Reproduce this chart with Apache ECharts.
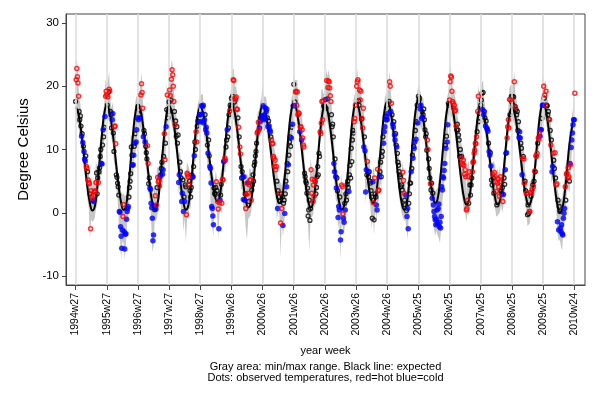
<!DOCTYPE html>
<html><head><meta charset="utf-8">
<script src="https://cdn.jsdelivr.net/npm/echarts@6/dist/echarts.min.js"></script>
<style>html,body{margin:0;padding:0;background:#fff}#c{width:600px;height:400px}</style>
</head><body><div id="c"></div>
<script>
// Tick labels, one every 52 weeks starting at week index 0 (= 1994w27)
const tickLabels = ['1994w27','1995w27','1996w27','1997w27','1998w27','1999w26','2000w26','2001w26','2002w26','2003w26','2004w26','2005w25','2006w25','2007w25','2008w25','2009w25','2010w24'];
const tickWeeks = tickLabels.map((_, i) => i * 52);
const captionLines = ['Gray area: min/max range. Black line: expected', 'Dots: observed temperatures, red=hot blue=cold'];

// Expected temperature, one value every 4 weeks from week 0
const expectedStep = 4;
const expectedTemp = [
16.7,15.95,13.8,10.7,7.17,3.91,1.48,0.35,0.98,3.84,8.08,12.49,15.78,
17.0,16.24,14.06,10.92,7.36,4.05,1.6,0.45,1.08,3.94,8.18,12.59,15.88,
17.1,16.33,14.15,11.01,7.43,4.11,1.65,0.5,1.12,3.94,8.12,12.46,15.7,
16.9,16.14,13.99,10.88,7.34,4.07,1.63,0.5,1.12,3.9,8.02,12.31,15.51,
16.7,16.01,14.06,11.25,8.04,5.08,2.87,1.85,2.43,5.06,8.98,13.04,16.08,
17.2,16.45,14.3,11.2,7.67,4.41,1.98,0.85,1.46,4.21,8.3,12.55,15.72,
16.9,16.19,14.17,11.26,7.95,4.89,2.61,1.55,2.15,4.85,8.86,13.03,16.15,
17.3,16.54,14.38,11.26,7.71,4.43,1.99,0.85,1.46,4.23,8.35,12.63,15.82,
17.0,16.24,14.07,10.94,7.38,4.09,1.64,0.5,1.14,4.04,8.35,12.82,16.16,
17.4,16.67,14.59,11.58,8.16,5.0,2.64,1.55,2.16,4.91,9.0,13.25,16.42,
17.6,16.81,14.56,11.32,7.64,4.22,1.68,0.5,1.16,4.13,8.54,13.12,16.53,
17.8,17.05,14.91,11.83,8.33,5.09,2.67,1.55,2.16,4.91,9.0,13.25,16.42,
17.6,16.85,14.71,11.62,8.1,4.85,2.43,1.3,1.88,4.53,8.45,12.53,15.57,
16.7,15.99,13.97,11.05,7.72,4.65,2.36,1.3,1.88,4.5,8.4,12.46,15.48,
16.6,15.89,13.87,10.96,7.65,4.59,2.31,1.25,1.86,4.61,8.7,12.95,16.12,
17.3,16.5,14.24,10.97,7.25,3.81,1.25,0.05,0.66,3.0,6.8,10.8,13.3,
14.8];

// Min/max range, one value every 2 weeks from week 0
const bandStep = 2;
const bandMax = [
23.0,24.4,22.3,18.0,17.3,14.5,13.0,11.5,11.0,9.2,8.3,6.6,4.8,5.3,4.1,5.1,5.3,8.1,7.3,8.3,10.7,12.1,14.3,15.9,17.6,21.0,
20.4,20.9,22.3,17.8,16.5,17.5,15.4,15.5,9.2,7.5,5.9,4.6,3.4,2.8,3.1,2.6,2.9,4.3,5.7,7.8,12.2,12.2,14.4,16.0,17.7,18.5,
18.9,18.5,20.4,22.2,18.3,14.8,13.0,11.3,12.4,7.6,5.9,4.7,3.5,2.9,4.5,3.1,7.4,6.9,7.5,8.8,9.9,12.1,14.3,15.9,20.4,18.1,
21.2,20.3,24.2,23.4,19.4,16.3,15.4,14.1,9.1,9.8,7.3,7.0,4.3,6.2,5.9,8.0,7.5,6.8,5.8,7.8,9.8,13.0,14.6,15.7,17.3,17.9,
18.5,18.7,18.8,16.8,17.3,15.3,13.1,13.3,9.8,8.3,6.9,5.8,4.9,6.7,5.3,4.0,4.2,6.3,7.1,9.9,10.8,12.8,14.9,16.4,17.9,18.8,
19.9,22.8,22.7,19.9,20.1,18.1,15.3,12.2,9.5,8.3,7.5,5.0,4.7,6.5,4.9,7.0,7.0,6.2,7.8,9.8,11.5,14.4,16.1,16.0,17.5,18.1,
20.5,18.3,18.4,18.2,16.8,16.3,14.9,13.8,12.8,10.7,10.1,9.1,6.8,5.3,4.9,4.8,4.3,5.3,6.6,8.6,10.6,12.7,14.8,16.4,17.9,18.7,
22.1,20.9,21.0,20.9,17.6,15.3,15.4,14.9,12.5,8.1,6.8,5.7,3.8,3.8,8.6,7.1,6.2,7.0,6.7,8.1,10.2,12.3,14.6,19.4,19.5,18.7,
19.7,22.7,21.6,22.6,21.5,19.4,15.8,13.8,10.3,7.6,7.3,4.7,4.3,2.9,6.2,2.6,3.3,4.8,6.3,8.0,10.2,12.4,14.6,16.3,18.0,18.8,
21.8,22.8,19.5,21.2,21.0,16.7,18.3,13.8,10.0,9.9,8.3,8.3,6.5,4.3,6.7,7.3,4.8,5.3,8.7,8.8,10.8,12.9,15.0,16.6,18.2,18.8,
19.4,19.4,22.5,19.1,17.3,16.2,14.1,14.3,12.2,9.8,8.3,7.5,6.2,8.2,4.9,4.6,3.0,4.5,5.9,8.2,10.3,12.7,14.9,16.6,18.3,19.0,
20.2,19.9,18.8,17.8,18.2,16.5,14.3,13.3,11.8,8.8,6.9,6.5,4.9,3.9,3.4,3.7,4.0,5.3,6.7,8.8,10.8,12.9,15.0,16.6,18.2,19.1,
22.5,23.4,21.0,19.1,18.8,18.0,15.8,14.9,13.3,11.8,10.7,10.1,9.3,8.6,3.1,7.5,8.3,6.2,7.3,9.8,11.2,12.8,14.3,17.8,20.2,18.3,
19.6,20.7,20.8,17.8,16.3,15.2,14.7,11.5,11.3,8.0,7.9,8.2,7.5,5.2,7.2,5.9,7.5,5.3,6.3,8.3,10.2,12.2,15.4,16.5,19.7,20.2,
20.2,20.1,22.5,18.5,17.8,16.2,14.6,13.6,12.0,10.7,10.3,6.8,4.9,3.6,3.1,5.1,4.9,6.2,6.8,8.5,10.8,12.8,14.8,16.4,17.9,18.8,
21.8,20.4,21.0,18.8,17.8,16.6,14.8,13.3,11.2,10.1,11.3,6.4,3.8,2.8,2.0,2.2,2.5,3.8,5.9,7.9,8.6,10.6,12.6,13.9,15.1,16.5,
20.7];
const bandMin = [
14.5,14.3,14.0,12.7,11.8,10.3,8.6,6.6,5.3,3.6,2.0,0.8,-4.3,-1.0,-1.5,-1.2,-0.8,0.6,1.2,3.0,5.3,6.0,5.9,10.2,11.7,14.6,
15.2,14.8,14.4,13.3,11.6,10.7,7.9,7.3,3.8,2.3,-1.6,-4.0,-7.4,-4.5,-4.8,-7.5,-5.1,-1.6,-0.8,2.2,4.4,5.7,5.8,8.7,9.4,11.3,
12.9,13.7,13.2,13.5,10.2,10.7,8.7,6.7,5.6,2.8,1.9,-1.0,-6.2,-5.3,-1.3,-1.2,-0.7,0.7,2.1,4.2,4.3,5.0,6.6,9.2,13.9,13.2,
15.1,14.7,14.3,13.2,12.2,10.6,9.1,7.3,3.0,3.9,0.0,1.0,-3.0,-0.8,-4.7,-1.0,-0.7,0.7,0.7,3.8,3.9,7.2,8.2,9.4,12.7,12.6,
12.6,13.8,14.2,12.4,11.3,10.8,7.6,7.2,5.2,-0.8,-2.3,-3.7,1.1,0.5,0.0,-4.3,-0.2,1.0,-0.3,3.4,6.4,6.5,9.7,10.2,13.7,14.7,
15.2,15.0,14.6,13.6,12.5,10.9,9.4,7.5,3.7,3.8,0.3,0.2,-2.5,-4.3,-1.0,-0.7,-0.4,1.0,2.4,4.4,6.5,8.6,10.7,11.3,12.6,13.1,
13.5,12.9,13.0,13.4,11.8,10.9,9.5,7.8,6.2,4.6,3.1,2.0,-1.1,0.3,-0.2,-7.0,-1.1,-3.8,-1.9,1.2,2.3,4.7,7.3,8.7,10.0,12.2,
15.1,15.4,15.0,13.7,12.6,11.0,9.5,7.7,5.9,3.9,2.6,1.3,-2.3,-6.0,-1.1,-0.7,-0.4,0.8,1.2,2.2,4.2,7.1,10.7,12.4,12.9,14.6,
15.0,14.7,14.4,13.4,12.3,10.7,9.1,6.0,4.7,2.1,1.7,-2.6,-1.4,-7.5,-1.3,-2.7,-3.3,-1.4,0.2,2.2,1.5,3.7,6.3,9.7,10.8,13.1,
15.2,15.2,14.9,13.8,12.8,11.3,8.6,8.0,1.5,4.2,3.2,2.0,0.8,-2.6,-0.2,-3.5,0.4,-1.4,1.7,1.8,4.7,3.9,7.9,9.2,11.8,12.9,
12.9,14.7,15.0,13.9,12.2,11.2,9.5,7.7,5.8,4.2,2.4,1.2,-0.1,-0.7,-1.3,-1.0,-2.4,-4.3,-0.3,2.9,4.7,6.8,8.4,9.4,9.8,12.4,
16.0,14.6,13.1,13.3,13.1,11.3,10.0,8.1,6.5,3.7,1.8,0.5,-0.6,-2.4,-3.7,-2.8,-3.6,-4.0,-4.8,-2.4,1.8,3.7,6.0,8.4,9.4,15.2,
15.8,15.4,15.0,14.0,12.9,11.4,9.8,8.0,6.3,4.7,3.0,1.8,0.6,0.0,-1.4,-0.2,-0.3,1.0,2.6,4.7,6.3,8.1,9.1,11.0,12.6,13.9,
14.9,14.5,13.7,13.2,11.9,10.7,9.2,7.3,5.6,2.6,2.9,1.3,0.6,-0.6,-0.5,-0.2,0.1,1.2,0.0,1.1,2.7,7.6,10.0,11.6,13.7,14.3,
14.8,14.5,14.1,13.1,12.1,10.6,9.2,7.5,4.2,4.3,2.8,1.6,0.5,-2.1,-1.9,-1.6,0.0,1.4,2.3,4.7,6.9,7.6,9.8,10.3,11.3,13.1,
15.2,15.1,14.7,13.5,12.4,10.8,8.9,4.7,5.4,3.7,2.0,0.7,-3.2,-4.5,-4.2,-5.3,-6.0,-2.6,-1.1,0.2,3.7,3.9,3.2,5.8,9.7,12.1,
12.9];

// Observed weekly temperature from week 0
const observedTemp = [
17.6,21,22.8,21.5,20.5,18.4,16,14.7,15.3,13.7,12.1,12.5,11.1,10.5,9.7,8.5,8.2,9,7.3,7,6.5,5.2,4.8,4.6,3,-2.5,3.5,2.6,2.3,2,1.8,3.35,3.3,3.5,4.8,6.3,3,5.5,4.8,6.5,7.1,8.9,10,7.8,7.7,10.7,13.1,12,13.5,15.2,18.4,19.2,
18.6,17,18.3,19.1,19.5,19.2,16,15.5,13.4,14.7,15.7,12.6,9.7,13.6,13.7,10.9,6,5.6,4.7,4.1,2.8,0.2,0.1,-2.2,-3.7,-5.6,-2.7,-0.6,1.3,-3,-5.7,-3.4,-3.3,-1,0.2,0.7,1,2.5,4,5,6.2,10.4,9.1,7.5,7.6,9.1,10.5,11,12.5,11.2,13.1,15,
16.8,14.7,16.3,15.5,15,18.6,20.4,19,16.5,12,13,12.5,11.2,10.5,9.5,8.5,10.6,7.8,4.6,5.5,3.9,3.7,1.5,0.8,-0.85,-4.4,-3.5,1.1,0.5,2.7,0.6,1.25,4,5.6,4.9,5.1,4.25,5.7,6,7,8,6.1,6.8,8.9,12.5,8.4,11,13.6,16.3,18.6,15,16,
17.5,19.4,18.5,17.8,21.1,22.6,21.8,20,17.6,16,13.9,14.5,12.1,13.6,11,12.3,4.8,6,8,6.5,5.5,1.8,3.1,5.2,0.2,2.5,1.8,4.4,4.1,-0.3,6.25,6,5.7,4.5,5,3.5,2.5,4,6,5.6,5.7,7.3,9,11.2,10,12.8,11.2,13.7,14.5,15,14.4,15.5,
15.5,14.4,16.9,15.6,16.8,17,14.2,14.7,15.5,13.1,13.5,12.6,10.7,9.4,11.5,9,7.3,7,4.7,1,0.7,-0.5,-1.9,3.9,3.1,2.9,4,4.9,3.5,1.8,0.6,-2.5,1.6,2,2.8,4.5,1.5,5.3,5.2,8.1,8.2,8.6,8.3,10.4,11.5,13.1,12,13.4,15.5,16.1,17,16.5,
18.1,17,18.4,21,20.9,17.5,18.1,17.8,18.3,16.4,16.3,15,13.5,12,10.4,9.3,7.3,5.5,6.5,5.6,2.1,5.7,2,3,0.7,2.9,4.7,4.7,3.1,1.8,4.4,5.2,5.2,2,3.6,4.4,6,5,7.5,8,9,9.7,11,12.6,12.8,14.3,13.1,13.4,14.4,15,14.9,15.3,
15.3,16.9,14.7,15.5,16.6,14.8,16,16.4,15,13.6,14.5,13.7,13.1,12.8,12,11.5,11,10.9,8.9,8.6,7.3,8.3,6.8,7.3,5,0.7,3.5,2.5,3.1,1.8,-1.6,3,0.7,2.5,-2,1.5,2,-0.1,3,5,4.1,7.8,6.5,7.6,9.1,11.2,12,10.5,11.8,13.5,14,16.9,
20.3,16.9,17.5,19.1,19.2,17,19.1,15.5,15.8,15.7,12.8,13.5,13.6,11.5,13.1,11.8,10.7,10.4,6.25,5.7,5,4.7,3.1,3.9,-0.5,0.45,2,-1.2,0.7,6.8,3.1,5.3,1.8,4.4,2.6,5.2,4.9,3,4,5.7,7.3,6,9.4,8.9,12.8,12.5,14.2,17.6,14.7,17.7,16.9,16.8,
16.8,17.9,16.5,20.9,18,19.8,20.8,20.7,19.7,18.5,17.6,15.5,13.6,14,12,7.8,6.5,8.5,5.7,3.9,5.5,3.5,-0.75,1,0.45,2.5,-4.3,-3,4.4,4.1,-0.2,-0.85,-1.5,1.5,0.45,3,2,4.5,5,4,3.35,6,7.5,5.5,10.2,8.1,11.5,13,12.6,14.4,14.9,17,
17,20,20.7,21,17.7,17,19.4,17.8,19.2,14.8,14.9,13.4,16.5,10.4,12,9.8,3.3,6.8,6,8.1,6.5,5.7,6.5,5,4.7,3.5,2.5,-0.85,4.9,1.6,-1.1,5.5,3,2.5,1.25,0.45,6.9,3.5,3.6,5.7,6.5,8,5.7,8.9,9.7,12,11,12.8,13.6,15.2,14.7,15.2,
14.7,15.7,16.5,17.6,20.7,20,16,17.3,15.5,14,13.5,14.4,12.3,11.5,12.5,10.7,10.4,9.4,8,7.5,6.5,6,5.7,4.1,4.4,3.6,6.4,5.1,3.1,2,1.25,2.8,0.35,-0.6,0.7,-2.5,1.5,3,4.7,4.7,6.5,7,9.1,8.6,10.5,10.2,11.2,13,11.6,14.4,17,14.2,
18.4,17.8,18.1,16.4,17,14.9,16,15.1,15.5,16.4,14.7,13.1,12,12.5,9.9,11.5,10,8.5,7,5.5,4.6,3.6,4.7,2.3,3.1,1.25,0.2,-0.6,-1.1,-1.9,-1,0.45,-1.75,0.7,1.4,-2.2,-1.5,-2.4,-0.6,4.1,3.6,5.7,5.5,6.7,7.8,10.7,10.2,12.1,11.2,13.9,17.3,17,
17.8,20.7,21.6,21.4,19.2,17.6,17.3,16.5,17,16.1,16.2,13.7,13.1,14,13.1,12.3,11.5,8.9,10,8.6,8.9,7.8,7.6,8.3,7.5,6.1,6.8,5.7,0.45,0.7,2,5.7,1.5,6.5,4.4,2.8,4.4,5.5,6.5,7.95,8.1,9.4,9.9,11,10.9,12,12.8,16,18.4,14.4,15.7,16.5,
17,17.8,18.9,16.3,19,15.5,16,15,13.7,14.5,13.4,13.2,12.9,11,9.7,9.1,9.5,7.4,5.2,4.4,6.1,5.5,3.1,6.35,5.7,4.9,3.35,1.25,4.7,5.4,4.1,2.6,4.9,5.7,3.5,3,4,1.8,2.9,5.5,4.5,6.8,9.4,9.5,11.8,13.6,14.7,13.4,17.9,15.5,17.8,18.4,
17.5,18.4,17,18.3,20.7,16.8,16.7,16.3,15.5,16,13,14.4,11.9,12.8,11.8,11,10.2,6,8.6,8.9,8.5,4.7,5,3.5,3.1,3.1,-0.3,1.25,-0.1,0.2,0.2,3.25,2.6,3.1,3.7,4.4,4.1,5,6.6,6.5,9,8.9,9.4,11,11.8,11.6,12.6,12.1,13.1,13.1,14.9,17,
17,20,18.1,18.6,17,19.2,17,16.9,15.5,16,14.8,14.7,13,10.7,11.5,6.5,7.3,9.4,8.3,7,9.5,5.5,4.4,4.6,-1.4,2,-2.7,1,0.2,-2.4,-3,-1.9,-3.3,-3.5,-0.85,-0.05,0.7,4.1,2,6.1,6.25,5.5,7.1,5.7,5,7.8,7.6,10.3,11.5,12.6,13.9,14.7,14.7,18.9];

// Class of each observed week: k = normal, r = hot, b = cold
const observedClass =
'krrrrrkkkkbkbkbbbkrrkrrrkrrrrbbrrrrkkkrkkkkbbkbkkbrr' +
'rkrkrrkkkbbkkrrrkkkkkbbbbbbrrbbbbbbbbkkkkkkbbbkbkbbb' +
'kbkkbrrrrbkkbkkkrrkkbbbbbbbbkrbrkrrrrbkkkbbkrrkbkrkk' +
'krrkrrrrrkrkkkkkbbkkkbbkbkbkkrrrrrkkkkkbbkbkkrrkkkbb' +
'bbbbbbbbkbbbkbkkbbbbbbbkkkkrkrrbrbkkrrrbbrrkkbkkkrkk' +
'kkkrrkrrrrrkrkrrkkkbbbbkrrrbrkrrrrkkkkkkkkkrrrrbbkbb' +
'bbbbbbbbkbkbbbkrrrrrrrrrkbkkrkrkrkbkkbkkbkkbkkkkbkbk' +
'kbkrrrrrrrbrrbrrrrkkkkkkkkkkkrrrrrrrrkkkkkkkrrrrrrkk' +
'kbkrkrrrrrrkkkkbbkbbkkbbbkbbrrrbbkbkkkkkbkkkkkkkkrrr' +
'krrrkkrrrkrrrbkbbbkrbkkkkkkkbrkrkkbbrrrbkkkkkkbbbkbb' +
'bbkkrrbrkbbkbbkkbkkkkkkkkkrrrkkbkbbbkkkkbkkbkbbkbkkb' +
'kkkbbbkbkkkkkkkrrkkkrkkbk' + 'bbbbbbbbbbbbbbbbbbbb' + 'kbkbbkk' +
'rrrrrrrrrrrrkkkkkkkrkrrrrrrrrrrrkrkkkkrrrrrrrrkrrkkk' +
'kkkbkbbkbkbbbkbbkbkkrkkrrrrkrrrrrrkkkrbkkbkbrrrrrkrk' +
'kkkkrkrkkkkkbbbkkbrkrrkkrrkkkrrrkrrkrkrkrrrkrrrbbbkb' +
'brkrrrkkkkkrkrkbbrkkrkrrbkbkkbbbbbbbbrkrrrrrkbrbbbbbbr';

const expectedData = expectedTemp.map((v, i) => [i * expectedStep, v]);
const bandData = bandMin.map((v, i) => [i * bandStep, v, bandMax[i]]);
const groups = { k: [], r: [], b: [] };
observedTemp.forEach((v, i) => {
  const c = observedClass[i] || 'k';
  groups[c].push([i, v]);
});

const FONT = '"Liberation Sans", Arial, sans-serif';
const chart = echarts.init(document.getElementById('c'), null, { renderer: 'canvas' });
chart.setOption({
  animation: false,
  backgroundColor: '#ffffff',
  textStyle: { fontFamily: FONT, color: '#000' },
  graphic: captionLines.map((t, i) => ({
    type: 'text', x: 325.5, y: 367.3 + i * 10.5, silent: true,
    style: { text: t, fill: '#000', font: '11px ' + FONT, textAlign: 'center', textVerticalAlign: 'middle' }
  })),
  grid: { left: 66, right: 15, top: 14, bottom: 115, show: true, borderColor: '#444', borderWidth: 1, backgroundColor: '#fff' },
  xAxis: {
    type: 'value', min: -16, max: 850,
    name: 'year week', nameLocation: 'middle', nameGap: 60,
    nameTextStyle: { fontSize: 11, color: '#000', fontFamily: FONT },
    axisLine: { show: true, onZero: false, lineStyle: { color: '#444', width: 1 } },
    axisTick: { show: true, length: 5, customValues: tickWeeks, lineStyle: { color: '#444' } },
    axisLabel: {
      customValues: tickWeeks, rotate: 90, margin: 8, fontSize: 10.5, color: '#000', fontFamily: FONT,
      formatter: v => tickLabels[Math.round(v / 52)] || ''
    },
    splitLine: { show: false }
  },
  yAxis: {
    type: 'value', min: -11.4, max: 31.4,
    name: 'Degree Celsius', nameLocation: 'middle', nameGap: 31,
    nameTextStyle: { fontSize: 15, color: '#000', fontFamily: FONT },
    axisLine: { show: true, onZero: false, lineStyle: { color: '#444', width: 1 } },
    axisTick: { show: true, length: 4, customValues: [-10, 0, 10, 20, 30], lineStyle: { color: '#444' } },
    axisLabel: { customValues: [-10, 0, 10, 20, 30], margin: 7, fontSize: 11.5, color: '#000', fontFamily: FONT },
    splitLine: { show: false }
  },
  series: [
    {
      type: 'line', name: 'grid', data: [[tickWeeks[0], 0]], showSymbol: false, silent: true, z: 1,
      lineStyle: { opacity: 0 },
      markLine: {
        silent: true, symbol: 'none', label: { show: false },
        lineStyle: { color: '#dddddd', width: 1.6, type: 'solid' },
        data: tickWeeks.map(w => ({ xAxis: w }))
      }
    },
    {
      type: 'custom', name: 'range', z: 2, silent: true,
      data: bandData, encode: { x: 0, y: [1, 2] },
      renderItem: function (params, api) {
        if (params.dataIndex !== 0) return null;
        const top = [], bot = [];
        for (let i = 0; i < bandData.length; i++) {
          top.push(api.coord([bandData[i][0], bandData[i][2]]));
          bot.push(api.coord([bandData[i][0], bandData[i][1]]));
        }
        return { type: 'polygon', shape: { points: top.concat(bot.reverse()) }, style: { fill: '#c6c6c6' } };
      }
    },
    {
      type: 'line', name: 'expected', data: expectedData, smooth: 0.45, showSymbol: false, z: 3,
      lineStyle: { color: '#000', width: 2 }
    },
    {
      type: 'scatter', name: 'normal', data: groups.k, z: 4, symbol: 'circle', symbolSize: 4,
      itemStyle: { color: 'rgba(255,255,255,0)', borderColor: '#000', borderWidth: 1.3 }
    },
    {
      type: 'scatter', name: 'cold', data: groups.b, z: 5, symbol: 'circle', symbolSize: 5.5,
      itemStyle: { color: '#0000ff' }
    },
    {
      type: 'scatter', name: 'hot', data: groups.r, z: 6, symbol: 'circle', symbolSize: 4,
      itemStyle: { color: 'rgba(255,255,255,0)', borderColor: '#ff0000', borderWidth: 1.5 }
    }
  ]
});
</script></body></html>
